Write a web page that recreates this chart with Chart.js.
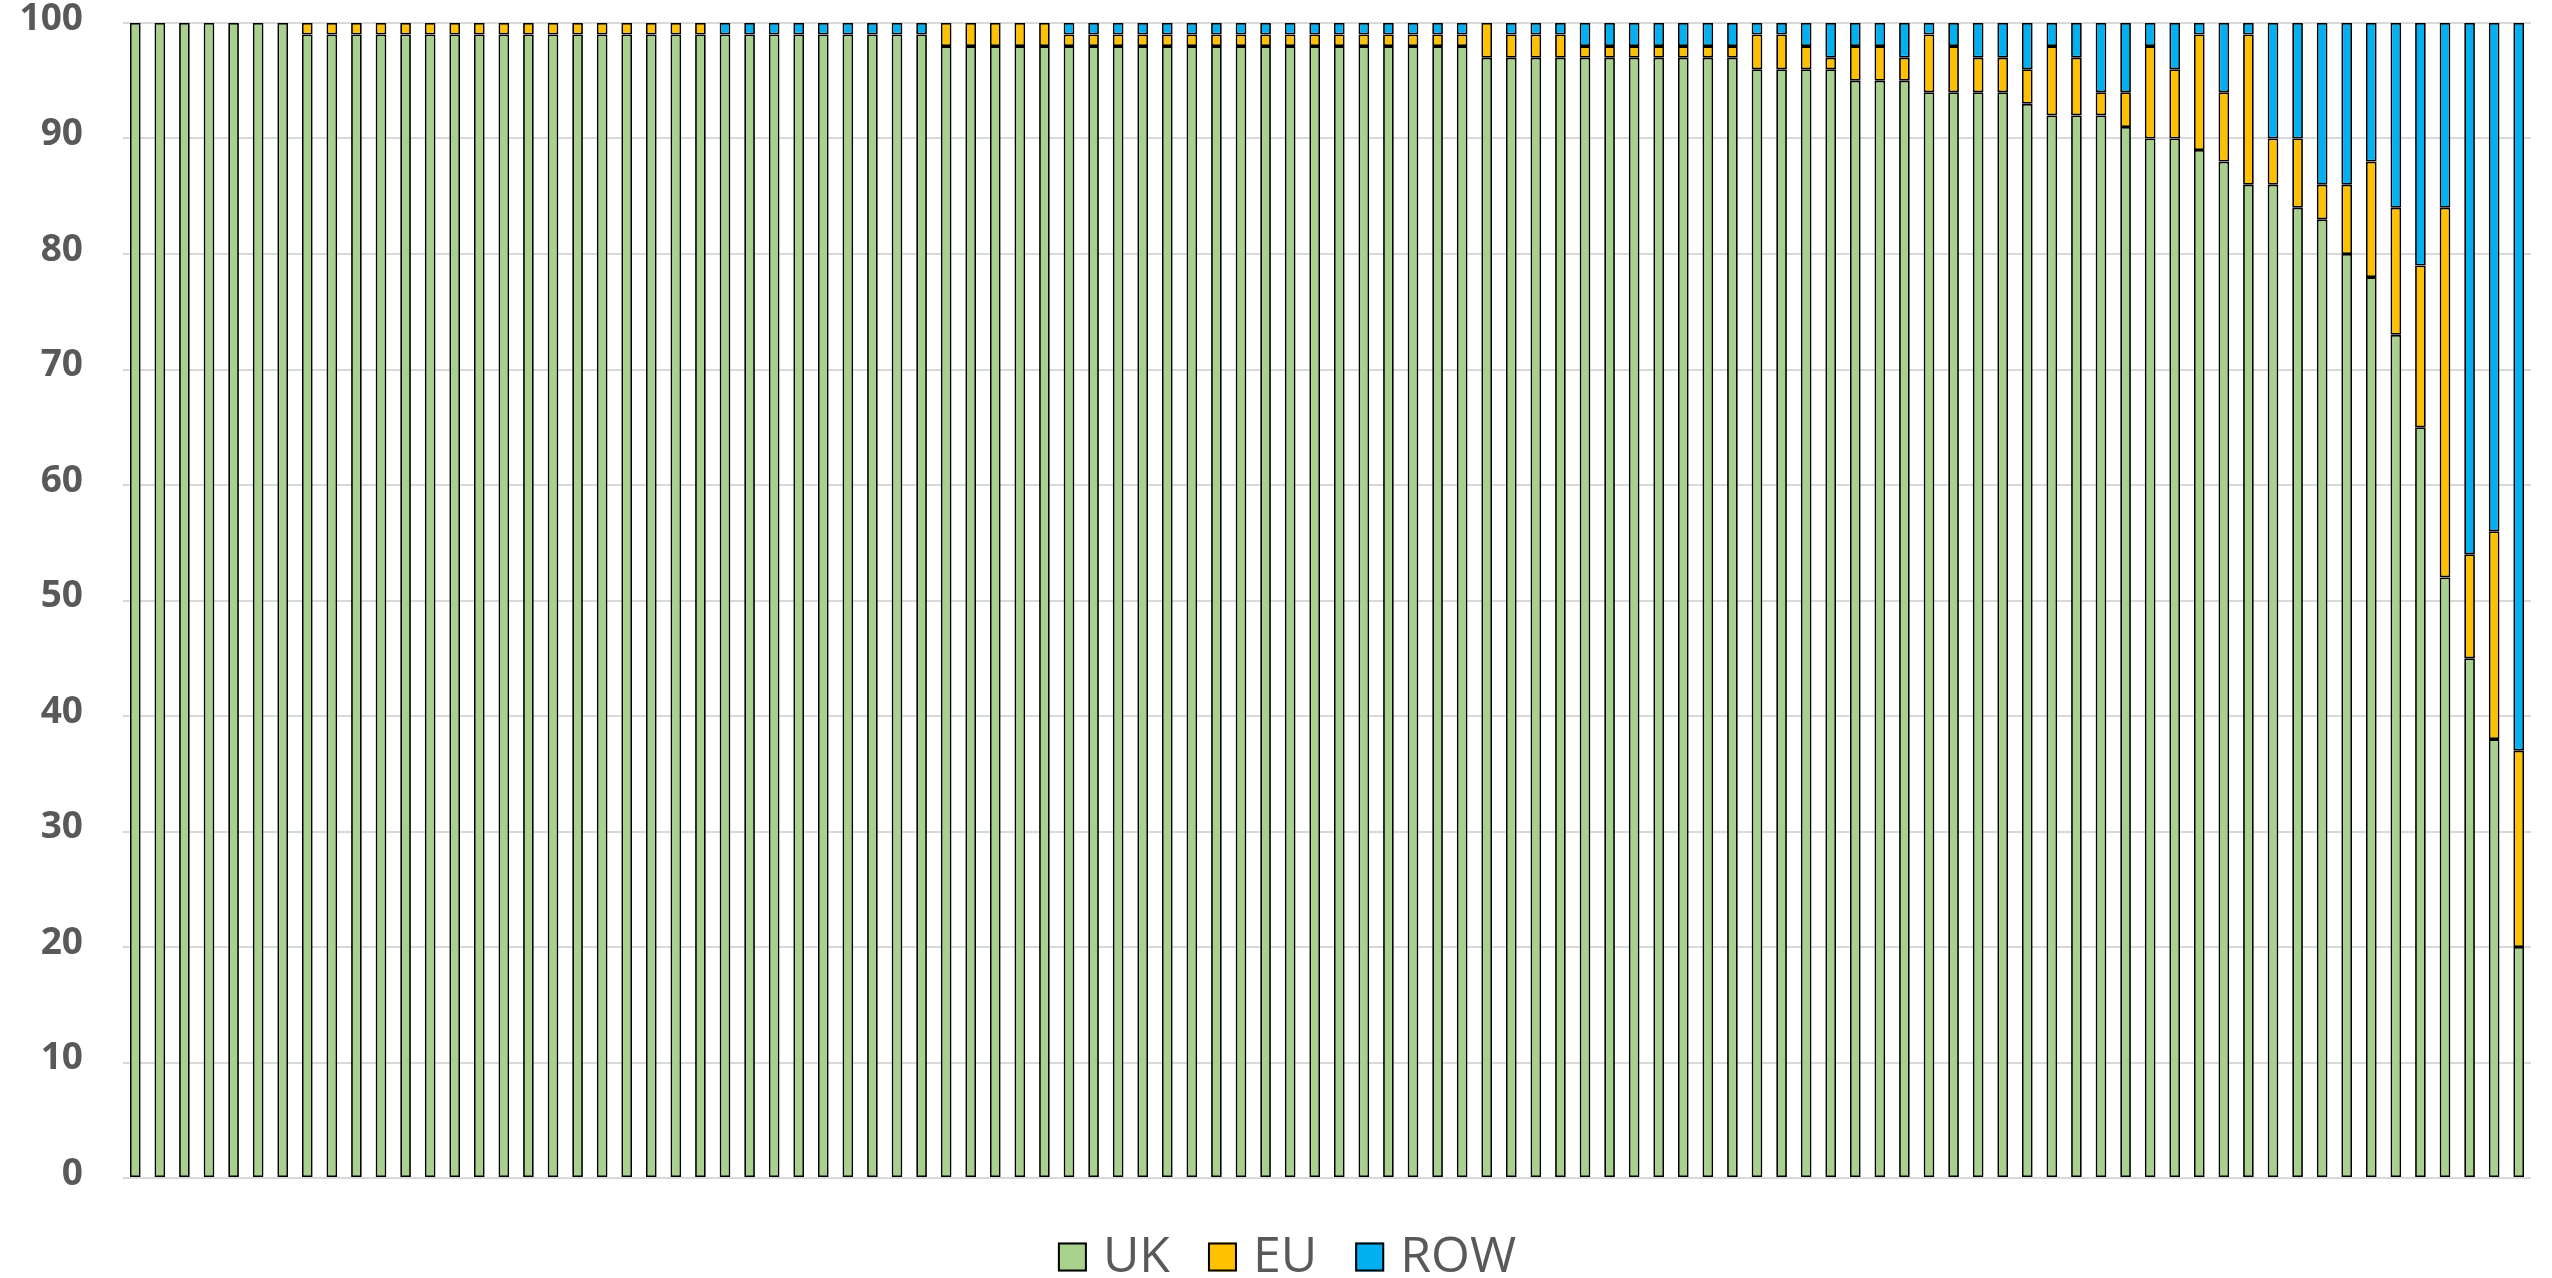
<!DOCTYPE html>
<html>
<head>
<meta charset="utf-8">
<title>UK / EU / ROW share</title>
<script src="https://cdn.jsdelivr.net/npm/chart.js@4.4.1/dist/chart.umd.min.js"></script>
<style>
  html, body { margin: 0; padding: 0; background: #ffffff; overflow: hidden; }
  #wrap { width: 2552px; height: 1278px; }
  canvas { display: block; }
</style>
</head>
<body>
<div id="wrap"><canvas id="chart" width="2552" height="1278"></canvas></div>
<script>
// Share of each bar by origin (percent), one entry per bar, left to right
const uk = [
  100, 100, 100, 100, 100, 100, 100,
  99, 99, 99, 99, 99, 99, 99, 99, 99, 99, 99, 99, 99, 99, 99, 99, 99,
  99, 99, 99, 99, 99, 99, 99, 99, 99,
  98, 98, 98, 98, 98, 98, 98, 98, 98, 98, 98, 98, 98, 98, 98, 98, 98,
  98, 98, 98, 98, 98,
  97, 97, 97, 97, 97, 97, 97, 97, 97, 97, 97,
  96, 96, 96, 96,
  95, 95, 95,
  94, 94, 94, 94,
  93,
  92, 92, 92,
  91,
  90, 90,
  89, 88, 86, 86, 84, 83, 80, 78, 73, 65, 52, 45, 38, 20
];
const eu = [
  0, 0, 0, 0, 0, 0, 0,
  1, 1, 1, 1, 1, 1, 1, 1, 1, 1, 1, 1, 1, 1, 1, 1, 1,
  0, 0, 0, 0, 0, 0, 0, 0, 0,
  2, 2, 2, 2, 2,
  1, 1, 1, 1, 1, 1, 1, 1, 1, 1, 1, 1, 1, 1, 1, 1, 1,
  3,
  2, 2, 2,
  1, 1, 1, 1, 1, 1, 1,
  3, 3, 2, 1,
  3, 3, 2,
  5, 4, 3, 3,
  3,
  6, 5, 2,
  3,
  8, 6,
  10, 6, 13, 4, 6, 3, 6, 10, 11, 14, 32, 9, 18, 17
];
const row = [
  0, 0, 0, 0, 0, 0, 0,
  0, 0, 0, 0, 0, 0, 0, 0, 0, 0, 0, 0, 0, 0, 0, 0, 0,
  1, 1, 1, 1, 1, 1, 1, 1, 1,
  0, 0, 0, 0, 0,
  1, 1, 1, 1, 1, 1, 1, 1, 1, 1, 1, 1, 1, 1, 1, 1, 1,
  0,
  1, 1, 1,
  2, 2, 2, 2, 2, 2, 2,
  1, 1, 2, 3,
  2, 2, 3,
  1, 2, 3, 3,
  4,
  2, 3, 6,
  6,
  2, 4,
  1, 6, 1, 10, 10, 14, 14, 12, 16, 21, 16, 46, 44, 63
];
const seriesNames = ['UK', 'EU', 'ROW'];
const seriesColors = ['#A9D18E', '#FFC000', '#00B0F0'];
// Bars carry no category labels; they are simply numbered
const categories = uk.map((_, i) => String(i + 1));
// Value axis
const yMin = 0, yMax = 100, yStep = 10;

const textGrey = '#595959';

// Legend drawn under the plot: square swatch, then the series name
const bottomLegend = {
  id: 'bottomLegend',
  afterDraw(chart) {
    const ctx = chart.ctx;
    const box = 29, textGap = 16, itemGap = 38;
    const centerX = 1287, boxTop = 1242.5, baseline = 1271.5;
    ctx.save();
    ctx.font = '50px "Open Sans"';
    const items = chart.data.datasets.map(ds => ({
      text: ds.label, fill: ds.backgroundColor, w: ctx.measureText(ds.label).width
    }));
    const total = items.reduce((s, it) => s + box + textGap + it.w, 0) + itemGap * (items.length - 1);
    let x = centerX - total / 2;
    items.forEach(it => {
      ctx.fillStyle = it.fill;
      ctx.fillRect(x, boxTop, box, box);
      ctx.lineWidth = 2;
      ctx.strokeStyle = '#000000';
      ctx.strokeRect(x + 1, boxTop + 1, box - 2, box - 2);
      ctx.fillStyle = textGrey;
      ctx.textBaseline = 'alphabetic';
      ctx.textAlign = 'left';
      ctx.fillText(it.text, x + box + textGap, baseline);
      x += box + textGap + it.w + itemGap;
    });
    ctx.restore();
  }
};

const seriesData = [uk, eu, row];
const datasets = seriesNames.map((name, k) => ({
  label: name,
  data: seriesData[k],
  backgroundColor: seriesColors[k],
  borderColor: '#000000',
  borderWidth: 1.8,
  borderSkipped: false,
  categoryPercentage: 1.0,
  barPercentage: 0.435
}));

new Chart(document.getElementById('chart'), {
  type: 'bar',
  data: { labels: categories, datasets },
  plugins: [bottomLegend],
  options: {
    responsive: false,
    animation: false,
    layout: { padding: { left: 20, right: 21, top: 23, bottom: 100 } },
    plugins: {
      legend: { display: false },
      tooltip: { enabled: false }
    },
    scales: {
      x: {
        stacked: true,
        display: false
      },
      y: {
        stacked: true,
        min: yMin,
        max: yMax,
        ticks: {
          stepSize: yStep,
          color: textGrey,
          padding: 40,
          labelOffset: -4,
          font: { family: 'Open Sans', size: 37, weight: 'bold' }
        },
        grid: { color: '#D9D9D9', lineWidth: 2, drawTicks: false },
        border: { display: false },
        // fixed axis width; the label gap is kept out of the vertical insets
        afterFit(scale) {
          scale.width = 103;
          scale.paddingTop = 0;
          scale.paddingBottom = 0;
        }
      }
    }
  }
});
</script>
</body>
</html>
